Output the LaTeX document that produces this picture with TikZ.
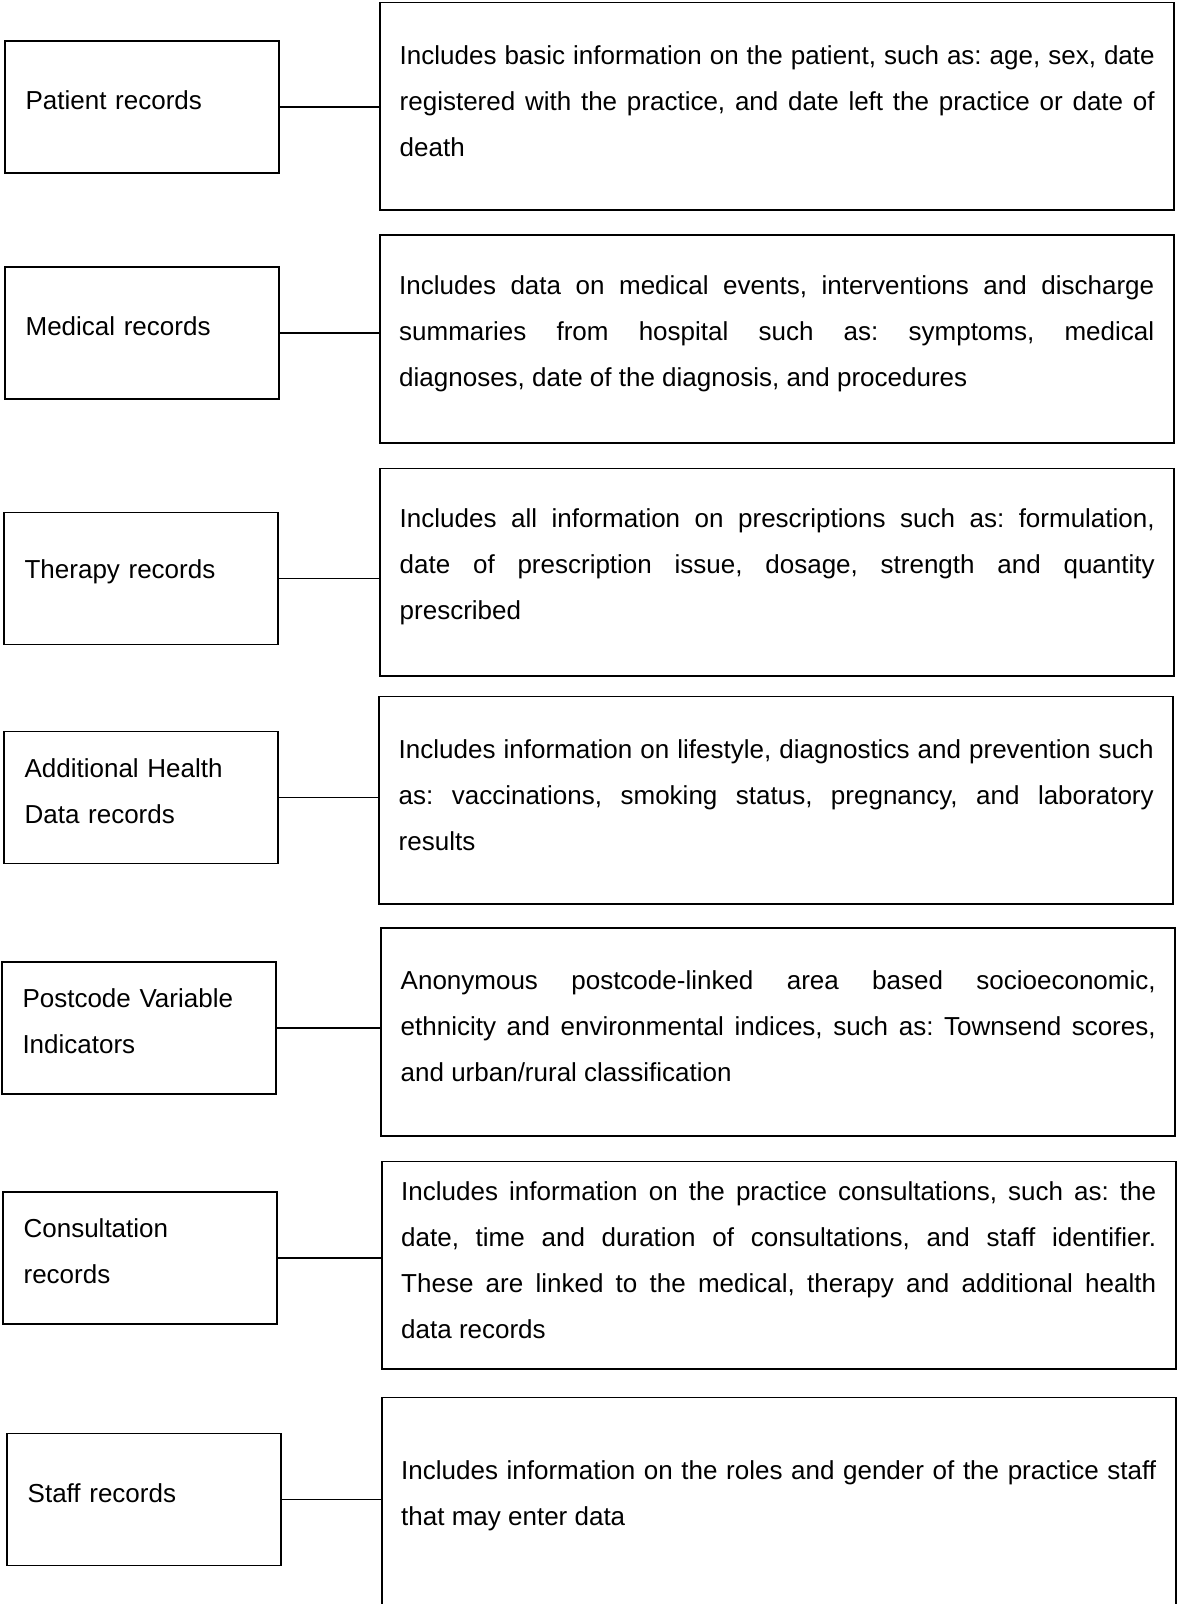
\documentclass[tikz,border=0pt]{standalone}
\usepackage{fontspec}
\setmainfont{Liberation Sans}
\usetikzlibrary{positioning}
\tolerance=10000
\tikzset{
    every node/.style={font=\fontsize{26pt}{46pt}\selectfont\frenchspacing},
    record node/.style={draw,line width=1.6pt,rectangle,minimum width=274pt,minimum height=132pt,text width=233pt,inner xsep=20.5pt,inner ysep=0pt,align=left,execute at end node={\par\kern13pt}},
    info node/.style={draw,line width=1.6pt,rectangle,minimum width=794pt,minimum height=207.5pt,text width=755pt,inner xsep=19.5pt,inner ysep=0pt,align=justify,execute at end node={\par\kern11pt}}
}

\begin{document}
\begin{tikzpicture}[x=1pt,y=-1pt,line width=1.4pt]
    \useasboundingbox (0,0) rectangle (1177,1604);

        \node[record node] (rec1) at (142.1,107) {Patient records};
        \node[record node] (rec2) at (142.1,333) {Medical records};
        \node[record node] (rec3) at (141.1,578.5) {Therapy records};
        \node[record node] (rec4) at (141.1,797.5) {Additional Health\\Data records};
        \node[record node] (rec5) at (139.0,1027.8) {Postcode Variable\\Indicators};
        \node[record node] (rec6) at (140.1,1257.8) {Consultation\\records};
        \node[record node] (rec7) at (144.2,1499.5) {Staff records};

        \node[info node] (info1) at (777.2,106.4) {Includes basic information on the patient, such as: age, sex, date\linebreak registered with the practice, and date left the practice or date of\linebreak death};
        \node[info node] (info2) at (776.7,339) {Includes data on medical events, interventions and discharge\linebreak summaries from hospital such as: symptoms, medical\linebreak diagnoses, date of the diagnosis, and procedures};
        \node[info node] (info3) at (777.2,572.2) {Includes all information on prescriptions such as: formulation,\linebreak date of prescription issue, dosage, strength and quantity\linebreak prescribed};
        \node[info node] (info4) at (776.2,800.2) {Includes information on lifestyle, diagnostics and prevention such\linebreak as: vaccinations, smoking status, pregnancy, and laboratory\linebreak results};
        \node[info node] (info5) at (778.2,1032) {Anonymous postcode-linked area based socioeconomic,\linebreak ethnicity and environmental indices, such as: Townsend scores,\linebreak and urban/rural classification};
        \node[info node] (info6) at (778.7,1265.4) {Includes information on the practice consultations, such as: the\linebreak date, time and duration of consultations, and staff identifier.\linebreak These are linked to the medical, therapy and additional health\linebreak data records};
        \node[info node] (info7) at (778.7,1501.1) {Includes information on the roles and gender of the practice staff\linebreak that may enter data};

        % connectors from each record to its description
        \foreach \i in {1,...,7}
            \draw (rec\i) -- (rec\i -| info\i.west);
\end{tikzpicture}
\end{document}
